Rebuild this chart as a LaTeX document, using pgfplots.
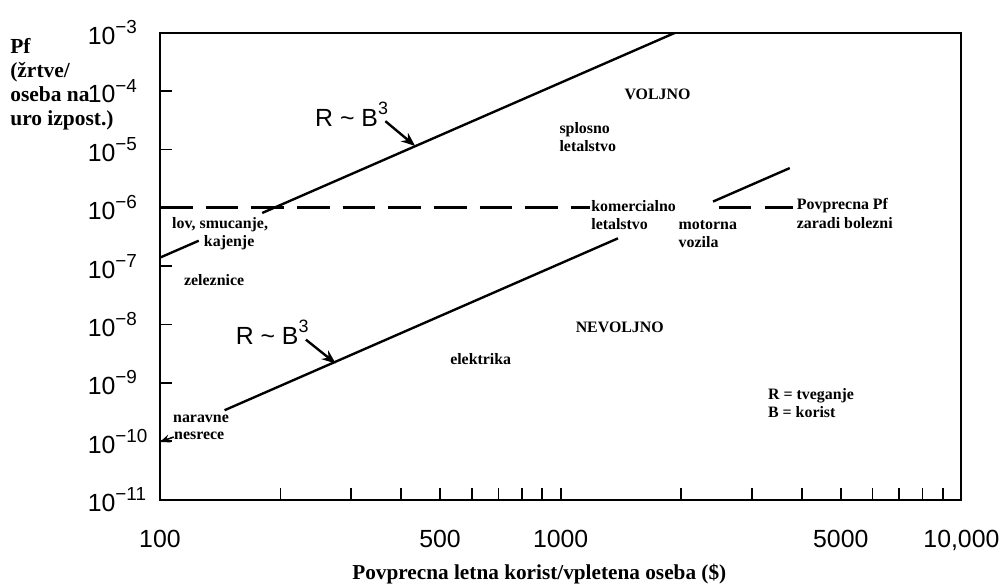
\documentclass[border=0pt]{standalone}
\usepackage{fontspec}
\setmainfont{Liberation Serif}
\newfontfamily\hel{Liberation Sans}
\usepackage{pgfplots}
\pgfplotsset{compat=1.18}
\usetikzlibrary{arrows.meta}
\newcommand{\tl}[1]{10\raisebox{5.5pt}{\fontsize{9.5}{10}\selectfont −#1}}
\newcommand{\ann}{\bfseries\fontsize{8}{9}\selectfont}
\newcommand{\rb}{{\hel\fontsize{12.5}{14}\selectfont R \textasciitilde{} B\raisebox{6pt}{\fontsize{9}{10}\selectfont 3}}}
\begin{document}
\begin{tikzpicture}
\begin{axis}[
  scale only axis, width=403.5pt, height=235pt,
  xmode=log, ymode=log,
  xmin=100, xmax=10000, ymin=1e-11, ymax=1e-3,
  axis line style={line width=1pt},
  tick align=inside, xtick pos=left, ytick pos=left,
  major tick length=6pt,
  tick style={line width=0.9pt, black},
  minor tick style={draw=none},
  xtick={100,200,300,400,500,600,700,800,900,1000,2000,3000,4000,5000,6000,7000,8000,9000,10000},
  xticklabels={100,,,,500,,,,,1000,,,,5000,,,,,{10,000}},
  ytick={1e-11,1e-10,1e-9,1e-8,1e-7,1e-6,1e-5,1e-4,1e-3},
  yticklabels={\tl{11},\tl{10},\tl{9},\tl{8},\tl{7},\tl{6},\tl{5},\tl{4},\tl{3}},
  ticklabel style={font=\hel\fontsize{12.5}{14}\selectfont},
  xticklabel style={yshift=-12pt},
  yticklabel style={anchor=west, inner sep=0pt, xshift=-36.5pt},
]
% upper R ~ B^3 line (broken by text)
\addplot[black, line width=1.2pt] coordinates {(100,1.4e-7) (125,2.73e-7)};
\addplot[black, line width=1.2pt] coordinates {(180,8.16e-7) (1930,1e-3)};
% lower R ~ B^3 line
\addplot[black, line width=1.2pt] coordinates {(145,3.4e-10) (1390,3.0e-7)};
% motor vehicles segment
\addplot[black, line width=1.2pt] coordinates {(2400,1.28e-6) (3730,4.8e-6)};
% average Pf due to disease
\addplot[black, line width=1.4pt, dash pattern=on 16.5pt off 6.5pt] coordinates {(100,1e-6) (1185,1e-6)};
\addplot[black, line width=1.4pt, dash pattern=on 16pt off 7.5pt] coordinates {(2480,1e-6) (3790,1e-6)};
\coordinate (tl) at (rel axis cs:0,1);
\end{axis}
\begin{scope}[shift={(tl)}, xshift=-80.5pt, yshift=16.5pt, x=0.5pt, y=-0.5pt]
\path (0,0) rectangle (1006,589);
\node[anchor=north west, inner sep=0pt, align=left, font=\bfseries\fontsize{10.8}{12.2}\selectfont] at (10,38) {Pf\\(žrtve/\\oseba na\\uro izpost.)};
\node[anchor=base, inner sep=0pt, font=\bfseries\fontsize{10.7}{12}\selectfont] at (543,583) {Povprecna letna korist/vpletena oseba (\$)};
\node[anchor=base, inner sep=0pt, font=\ann] at (662,100) {VOLJNO};
\node[anchor=base west, inner sep=0pt, font=\ann] at (563,134) {splosno};
\node[anchor=base west, inner sep=0pt, font=\ann] at (563,153) {letalstvo};
\node[anchor=base west, inner sep=0pt, font=\ann] at (595,213) {komercialno};
\node[anchor=base west, inner sep=0pt, font=\ann] at (595,231) {letalstvo};
\node[anchor=base west, inner sep=0pt, font=\ann] at (683,231) {motorna};
\node[anchor=base west, inner sep=0pt, font=\ann] at (683,249) {vozila};
\node[anchor=base west, inner sep=0pt, font=\ann] at (802,211) {Povprecna Pf};
\node[anchor=base west, inner sep=0pt, font=\ann] at (802,230) {zaradi bolezni};
\node[anchor=base west, inner sep=0pt, font=\ann] at (173,230) {lov, smucanje,};
\node[anchor=base west, inner sep=0pt, font=\ann] at (205,248) {kajenje};
\node[anchor=base west, inner sep=0pt, font=\ann] at (185,287) {zeleznice};
\node[anchor=base, inner sep=0pt, font=\ann] at (624,335) {NEVOLJNO};
\node[anchor=base, inner sep=0pt, font=\ann] at (484,367) {elektrika};
\node[anchor=base west, inner sep=0pt, font=\ann] at (174,425) {naravne};
\node[anchor=base west, inner sep=0pt, font=\ann] at (175,443) {nesrece};
\node[anchor=base west, inner sep=0pt, font=\ann] at (773,402) {R = tveganje};
\node[anchor=base west, inner sep=0pt, font=\ann] at (773,420) {B = korist};
\node[anchor=base west, inner sep=0pt] at (317,127) {\rb};
\node[anchor=base west, inner sep=0pt] at (237,347) {\rb};
\draw[-{Stealth[length=7pt,width=5.5pt]}, line width=1.2pt] (388,122) -- (418,147);
\draw[-{Stealth[length=7pt,width=5.5pt]}, line width=1.2pt] (308,342) -- (338,366);
\draw[-{Stealth[length=5pt,width=4pt]}, line width=0.8pt] (175,440) -- (161,445);
\end{scope}
\end{tikzpicture}
\end{document}
